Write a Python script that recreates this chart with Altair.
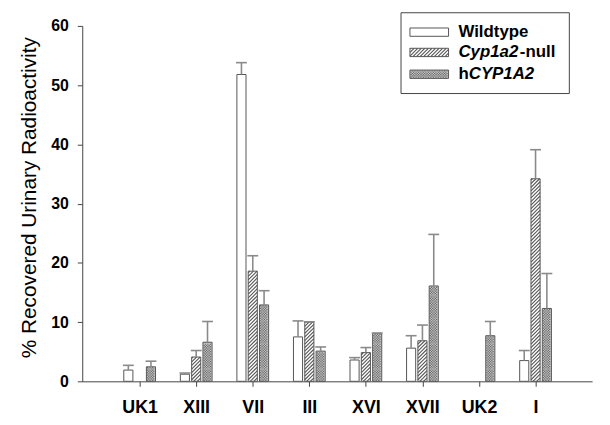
import json
import altair as alt
import pandas as pd

# ---------------- data ----------------
categories = ["UK1", "XIII", "VII", "III", "XVI", "XVII", "UK2", "I"]
groups = ["Wildtype", "Cyp1a2-null", "hCYP1A2"]

wildtype_mean = [1.9, 1.2, 51.8, 7.5, 3.6, 5.6, None, 3.5]
wildtype_err = [0.8, 0.2, 2.0, 2.7, 0.4, 2.1, None, 1.7]
null_mean = [None, 4.1, 18.6, 10.0, 4.85, 6.85, None, 34.2]
null_err = [None, 1.1, 2.6, 0.05, 0.85, 2.65, None, 4.9]
h_mean = [2.45, 6.6, 12.9, 5.1, 8.1, 16.1, 7.7, 12.3]
h_err = [0.95, 3.5, 2.4, 0.7, 0.05, 8.7, 2.4, 5.9]

y_ticks = [0, 10, 20, 30, 40, 50, 60]

# ---------------- geometry ----------------
X_MIN, X_MAX = -1.015, 8.0
Y_MAX = 60
W, H = 515, 359
px_x = W / (X_MAX - X_MIN)
px_y = H / Y_MAX
offsets = {"Wildtype": -0.2, "Cyp1a2-null": 0.0, "hCYP1A2": 0.2}
half = 4.6 / px_x
cap_half = 5.5 / px_x

series = {
    "Wildtype": (wildtype_mean, wildtype_err),
    "Cyp1a2-null": (null_mean, null_err),
    "hCYP1A2": (h_mean, h_err),
}

rows = []
for g in groups:
    means, errs = series[g]
    for i, c in enumerate(categories):
        m = means[i]
        if m is None:
            continue
        cx = i + offsets[g]
        rows.append(dict(cat=c, group=g, xc=cx, xl=cx - half, xr=cx + half,
                         xcl=cx - cap_half, xcr=cx + cap_half,
                         bot=0.0, mean=m, top=m + errs[i]))
bars = pd.DataFrame(rows)

# legend swatches, placed in data coordinates
def px2x(p):
    return X_MIN + p / px_x

def px2y(p):
    return Y_MAX - p / px_y

sw_centers = [6.3, 26.8, 48.8]
sw_rows = []
for g, cy in zip(groups, sw_centers):
    sw_rows.append(dict(group=g, xl=px2x(331), xr=px2x(370), bot=px2y(cy + 4.2), mean=px2y(cy - 4.2)))
swatches = pd.DataFrame(sw_rows)
all_rects = pd.concat([bars[["group", "xl", "xr", "bot", "mean"]], swatches], ignore_index=True)


def hatch_lines(df):
    out = []
    step = 3.6 / px_y
    for r in df.itertuples():
        wpx = (r.xr - r.xl) * px_x
        rise = wpx / px_y  # 45 degrees
        y0 = r.bot - rise
        while y0 < r.mean:
            t0 = max(0.0, (r.bot - y0) / rise)
            t1 = min(1.0, (r.mean - y0) / rise)
            if t1 > t0:
                out.append(dict(x1=r.xl + t0 * (r.xr - r.xl), y1=y0 + t0 * rise,
                                x2=r.xl + t1 * (r.xr - r.xl), y2=y0 + t1 * rise))
            y0 += step
    return pd.DataFrame(out)


def dot_grid(df):
    out = []
    for r in df.itertuples():
        hpx = (r.mean - r.bot) * px_y
        wpx = (r.xr - r.xl) * px_x
        k = 0
        yy = 1.2
        while yy < hpx - 0.8:
            xx = 1.2 + (k % 2) * 1.25
            while xx < wpx - 0.8:
                out.append(dict(x=r.xl + xx / px_x, y=r.bot + yy / px_y))
                xx += 2.5
            yy += 1.25
            k += 1
    return pd.DataFrame(out)


hatch_df = hatch_lines(all_rects[all_rects.group == "Cyp1a2-null"])
dots_df = dot_grid(all_rects[all_rects.group == "hCYP1A2"])

FONT = "Liberation Sans"
label_expr = json.dumps(categories) + "[datum.value]"

xscale = alt.Scale(domain=[X_MIN, X_MAX], nice=False, zero=False)
yscale = alt.Scale(domain=[0, Y_MAX], nice=False, zero=False)

x_axis = alt.Axis(values=list(range(len(categories))), labelExpr=label_expr, title=None,
                  grid=False, tickSize=5, labelPadding=12, labelFontSize=18,
                  labelFontWeight="bold", labelFont=FONT, labelColor="black",
                  domainColor="#444", tickColor="#444", labelFlush=False)
y_axis = alt.Axis(values=y_ticks, title="% Recovered Urinary Radioactivity", grid=False,
                  tickSize=5, labelPadding=9, labelFontSize=16, labelFontWeight="bold",
                  labelFont=FONT, labelColor="black", domainColor="#444", tickColor="#444",
                  titleFont=FONT, titleFontSize=21, titleFontWeight="normal",
                  titleColor="black", titlePadding=11, titleY=173)


def X(f):
    return alt.X(f, scale=xscale, axis=x_axis)


def Y(f):
    return alt.Y(f, scale=yscale, axis=y_axis)


fill_scale = alt.Scale(domain=groups, range=["white", "white", "#c6c6c6"])
fills_base = alt.Chart(all_rects).mark_rect(strokeWidth=0).encode(
    x=X("xl:Q"), x2="xr:Q", y=Y("mean:Q"), y2="bot:Q",
    fill=alt.Fill("group:N", scale=fill_scale, legend=None),
)
fills = fills_base
legend_fills = fills_base.transform_filter("datum.bot > 50")

hatch = alt.Chart(hatch_df).mark_rule(color="#555", strokeWidth=1.1).encode(
    x=X("x1:Q"), x2="x2:Q", y=Y("y1:Q"), y2="y2:Q",
)

dots = alt.Chart(dots_df).mark_square(color="#666", size=1.5, opacity=1).encode(
    x=X("x:Q"), y=Y("y:Q"),
)

outlines = alt.Chart(all_rects).mark_rect(fillOpacity=0, stroke="#555", strokeWidth=1).encode(
    x=X("xl:Q"), x2="xr:Q", y=Y("mean:Q"), y2="bot:Q",
)

err_v = alt.Chart(bars).mark_rule(color="#8a8a8a", strokeWidth=1.6).encode(
    x=X("xc:Q"), y=Y("mean:Q"), y2="top:Q",
)
err_cap = alt.Chart(bars).mark_rule(color="#8a8a8a", strokeWidth=1.6).encode(
    x=X("xcl:Q"), x2="xcr:Q", y=Y("top:Q"),
)

one = pd.DataFrame({"a": [0]})
legend_box = alt.Chart(one).mark_rect(fill="white", stroke="#444", strokeWidth=1).encode(
    x=alt.value(322), x2=alt.value(492), y=alt.value(-13.3), y2=alt.value(68.3),
)

txt_kw = dict(font=FONT, fontSize=17, fontWeight="bold", baseline="middle", color="black", align="left")
lg_texts = [
    alt.Chart(one).mark_text(**txt_kw).encode(
        x=alt.value(380), y=alt.value(sw_centers[0]), text=alt.value("Wildtype")),
    alt.Chart(one).mark_text(fontStyle="italic", **txt_kw).encode(
        x=alt.value(380), y=alt.value(sw_centers[1]), text=alt.value("Cyp1a2")),
    alt.Chart(one).mark_text(**txt_kw).encode(
        x=alt.value(442), y=alt.value(sw_centers[1]), text=alt.value("-null")),
    alt.Chart(one).mark_text(**txt_kw).encode(
        x=alt.value(380), y=alt.value(sw_centers[2]), text=alt.value("h")),
    alt.Chart(one).mark_text(fontStyle="italic", **txt_kw).encode(
        x=alt.value(390.4), y=alt.value(sw_centers[2]), text=alt.value("CYP1A2")),
]

chart = alt.layer(
    fills, legend_box, legend_fills, hatch, dots, outlines,
    err_v, err_cap, *lg_texts,
).properties(
    width=W, height=H, autosize="none",
    padding={"left": 75, "top": 16, "right": 10, "bottom": 40},
).configure_view(stroke=None).configure_axis(
    labelFont=FONT, labelFontWeight="bold", labelColor="black",
    titleFont=FONT, titleFontWeight="normal", titleColor="black",
    domainColor="#444", tickColor="#444", grid=False, tickSize=5,
)

chart.save("out.html", embed_options={"renderer": "svg", "actions": False})
